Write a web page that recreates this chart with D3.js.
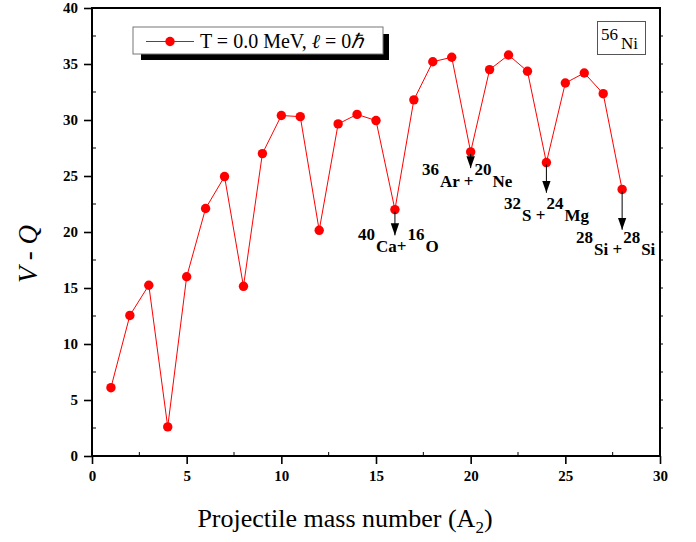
<!DOCTYPE html>
<meta charset="utf-8">
<head>
<script src="https://cdn.jsdelivr.net/npm/d3@7/dist/d3.min.js"></script>
<style>
  body { margin: 0; background: #fff; }
  text { font-family: "Liberation Serif", "Times New Roman", serif; }
</style>
</head>
<body>
<svg id="chart"></svg>
<script>

// projectile mass number A2 and V - Q values (56Ni, T = 0, l = 0)
var massNumbers = [1,2,3,4,5,6,7,8,9,10,11,12,13,14,15,16,17,18,19,20,21,22,23,24,25,26,27,28];
var vMinusQ = [6.1,12.55,15.25,2.6,16.0,22.1,24.95,15.15,27.0,30.4,30.3,20.15,
               29.65,30.5,29.95,22.0,31.8,35.2,35.6,27.15,34.5,35.8,34.35,26.2,33.3,34.2,32.35,23.8];

var xTicks = [0,5,10,15,20,25,30];
var yTicks = [0,5,10,15,20,25,30,35,40];

// marked minima: which A2, where arrow stops (in V-Q units), label parts
var markA = [16, 20, 24, 28];
var markTip = [19.7, 25.7, 23.5, 20.2];
var markLabels = [
  [["40","sup"],["Ca+","base"],["16","sup"],["O","base"]],
  [["36","sup"],["Ar +","base"],["20","sup"],["Ne","base"]],
  [["32","sup"],["S +","base"],["24","sup"],["Mg","base"]],
  [["28","sup"],["Si +","base"],["28","sup"],["Si","base"]]
];

var width = 696, height = 542;
var margin = {left: 92, right: 36, top: 8, bottom: 86};

var svg = d3.select("#chart").attr("width", width).attr("height", height);

var x = d3.scaleLinear().domain([0, 30]).range([margin.left, width - margin.right]);
var y = d3.scaleLinear().domain([0, 40]).range([height - margin.bottom, margin.top]);

// frame
svg.append("rect")
  .attr("x", x(0)).attr("y", y(40))
  .attr("width", x(30) - x(0)).attr("height", y(0) - y(40))
  .attr("fill", "none").attr("stroke", "#000").attr("stroke-width", 2);

// bottom axis
var xAxis = svg.append("g")
  .attr("transform", "translate(0," + y(0) + ")")
  .call(d3.axisBottom(x).tickValues(xTicks).tickSize(8).tickPadding(6).tickFormat(d3.format("d")));
xAxis.select(".domain").remove();
xAxis.selectAll("line").attr("stroke-width", 1.6);
xAxis.selectAll("text").attr("font-size", 15).attr("font-weight", "bold")
  .attr("font-family", "Liberation Serif, serif");

// minor ticks bottom
svg.append("g").selectAll("line")
  .data(d3.range(2.5, 30, 5))
  .join("line")
  .attr("x1", d => x(d)).attr("x2", d => x(d))
  .attr("y1", y(0)).attr("y2", y(0) - 4)
  .attr("stroke", "#000").attr("stroke-width", 1);

// left axis
var yAxis = svg.append("g")
  .attr("transform", "translate(" + x(0) + ",0)")
  .call(d3.axisLeft(y).tickValues(yTicks).tickSize(8).tickPadding(6).tickFormat(d3.format("d")));
yAxis.select(".domain").remove();
yAxis.selectAll("line").attr("stroke-width", 1.6);
yAxis.selectAll("text").attr("font-size", 15).attr("font-weight", "bold")
  .attr("font-family", "Liberation Serif, serif");

svg.append("g").selectAll("line")
  .data(d3.range(2.5, 40, 5))
  .join("line")
  .attr("x1", x(0)).attr("x2", x(0) + 4)
  .attr("y1", d => y(d)).attr("y2", d => y(d))
  .attr("stroke", "#000").attr("stroke-width", 1);

// right axis small ticks
svg.append("g").selectAll("line")
  .data(d3.range(2.5, 40, 2.5))
  .join("line")
  .attr("x1", x(30)).attr("x2", x(30) + 3)
  .attr("y1", d => y(d)).attr("y2", d => y(d))
  .attr("stroke", "#000").attr("stroke-width", 1);

// data line + points
var pts = massNumbers.map((a, i) => [a, vMinusQ[i]]);
svg.append("path")
  .datum(pts)
  .attr("fill", "none").attr("stroke", "#ff0000").attr("stroke-width", 1)
  .attr("d", d3.line().x(d => x(d[0])).y(d => y(d[1])));

svg.append("g").selectAll("circle")
  .data(pts)
  .join("circle")
  .attr("cx", d => x(d[0])).attr("cy", d => y(d[1]))
  .attr("r", 4.7).attr("fill", "#ff0000");

// arrows
svg.append("defs").append("marker")
  .attr("id", "ah").attr("viewBox", "0 0 10 10")
  .attr("refX", 10).attr("refY", 5)
  .attr("markerWidth", 12).attr("markerHeight", 12)
  .attr("markerUnits", "userSpaceOnUse")
  .attr("orient", "auto")
  .append("path").attr("d", "M0,1.5 L10,5 L0,8.5 Z").attr("fill", "#000");

markA.forEach(function(a, i) {
  var v = vMinusQ[massNumbers.indexOf(a)];
  svg.append("line")
    .attr("x1", x(a)).attr("x2", x(a))
    .attr("y1", y(v) + 2).attr("y2", y(markTip[i]))
    .attr("stroke", "#000").attr("stroke-width", 1)
    .attr("marker-end", "url(#ah)");
});

// annotation text placement (px): left x, baseline of main letters
var labelPos = [[358, 252], [422, 187], [504, 221], [576, 255]];
markLabels.forEach(function(parts, i) {
  var t = svg.append("text")
    .attr("x", labelPos[i][0]).attr("y", labelPos[i][1])
    .attr("font-size", 17).attr("font-weight", "bold").attr("fill", "#000");
  parts.forEach(function(p, j) {
    t.append("tspan")
      .attr("dy", j === 0 ? -12 : (p[1] === "sup" ? -12 : 12))
      .attr("dx", j === 0 ? 0 : 1)
      .text(p[0]);
  });
});

// legend with shadow
var lg = svg.append("g");
lg.append("rect").attr("x", 141).attr("y", 34).attr("width", 248).attr("height", 26).attr("fill", "#000");
lg.append("rect").attr("x", 133).attr("y", 27).attr("width", 250).attr("height", 27)
  .attr("fill", "#fff").attr("stroke", "#777").attr("stroke-width", 1);
lg.append("line").attr("x1", 146).attr("x2", 194).attr("y1", 41.5).attr("y2", 41.5)
  .attr("stroke", "#ff0000").attr("stroke-width", 1);
lg.append("circle").attr("cx", 170).attr("cy", 41.5).attr("r", 4.7).attr("fill", "#ff0000");
var lt = lg.append("text").attr("x", 200).attr("y", 48).attr("font-size", 20);
lt.append("tspan").text("T = 0.0 MeV, ");
lt.append("tspan").attr("font-style", "italic").text("\u2113");
lt.append("tspan").text(" = 0");
lt.append("tspan").attr("font-style", "italic").text("\u210F");

// nucleus box
svg.append("rect").attr("x", 597.5).attr("y", 21.5).attr("width", 48).attr("height", 33)
  .attr("fill", "#fff").attr("stroke", "#555").attr("stroke-width", 1);
var nt = svg.append("text").attr("x", 601).attr("y", 40).attr("font-size", 17);
nt.append("tspan").text("56");
nt.append("tspan").attr("dx", 3).attr("dy", 9).text("Ni");

// axis titles
svg.append("text")
  .attr("transform", "translate(37," + 254 + ") rotate(-90)")
  .attr("text-anchor", "middle").attr("font-size", 27).attr("font-style", "italic")
  .text("V - Q");

var xt = svg.append("text")
  .attr("x", 345).attr("y", 527).attr("text-anchor", "middle").attr("font-size", 26);
xt.append("tspan").text("Projectile mass number (A");
xt.append("tspan").attr("font-size", 17).attr("dy", 6).text("2");
xt.append("tspan").attr("dy", -6).text(")");

</script>
</body>
